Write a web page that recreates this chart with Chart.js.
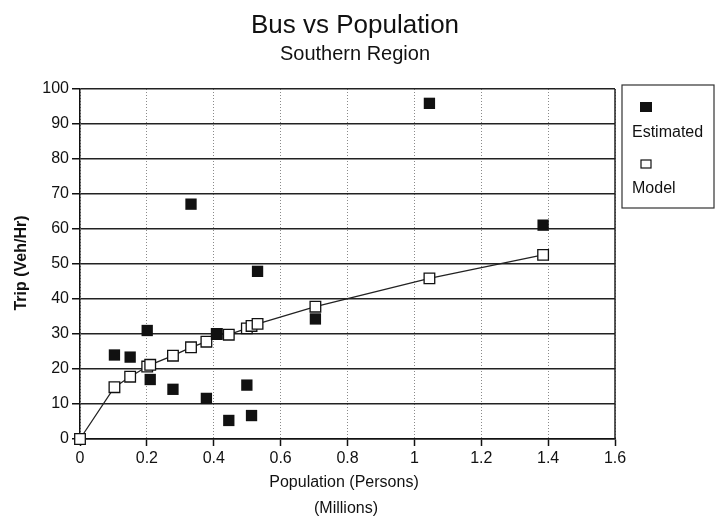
<!DOCTYPE html>
<html>
<head>
<meta charset="utf-8">
<script src="https://cdn.jsdelivr.net/npm/chart.js@4/dist/chart.umd.min.js"></script>
<style>
  html, body { margin: 0; padding: 0; background: #fff; }
  #c { display: block; }
</style>
</head>
<body>
<canvas id="c" width="715" height="524"></canvas>
<script>
// ---- data ----
const titleText = 'Bus vs Population';
const subtitleText = 'Southern Region';
const xTitleLines = ['Population (Persons)', '(Millions)'];
const yTitleText = 'Trip (Veh/Hr)';
const seriesNames = ['Estimated', 'Model'];

const population = [0.103, 0.150, 0.201, 0.210, 0.278, 0.332, 0.378, 0.409, 0.445, 0.499, 0.513, 0.531, 0.704, 1.045, 1.385];
const estimated  = [24.0, 23.4, 31.0, 17.0, 14.2, 67.1, 11.6, 30.1, 5.3, 15.4, 6.7, 47.9, 34.3, 95.9, 61.1];
const modelPopulation = [0, 0.103, 0.150, 0.201, 0.210, 0.278, 0.332, 0.378, 0.409, 0.445, 0.499, 0.513, 0.531, 0.704, 1.045, 1.385];
const model           = [0, 14.8, 17.8, 20.7, 21.2, 23.8, 26.2, 27.8, 30.0, 29.8, 31.6, 32.3, 32.9, 37.8, 45.9, 52.6];

const xTicks = [0, 0.2, 0.4, 0.6, 0.8, 1, 1.2, 1.4, 1.6];
const yTicks = [0, 10, 20, 30, 40, 50, 60, 70, 80, 90, 100];

// ---- chart ----
const FONT = '"Liberation Sans", Arial, Helvetica, sans-serif';
const INK = '#111';

const decorPlugin = {
  id: 'decor',
  afterDraw(chart) {
    const ctx = chart.ctx;
    const a = chart.chartArea;
    ctx.save();
    // right frame line
    ctx.strokeStyle = '#222';
    ctx.lineWidth = 1.5;
    ctx.beginPath();
    ctx.moveTo(a.right, a.top);
    ctx.lineTo(a.right, a.bottom);
    ctx.stroke();

    ctx.fillStyle = INK;
    ctx.textAlign = 'center';
    ctx.textBaseline = 'alphabetic';
    ctx.font = '26px ' + FONT;
    ctx.fillText(titleText, 355, 33);
    ctx.font = '20px ' + FONT;
    ctx.fillText(subtitleText, 355, 60);

    // x title
    ctx.textBaseline = 'middle';
    ctx.font = '16px ' + FONT;
    ctx.fillText(xTitleLines[0], 344, 483);
    ctx.fillText(xTitleLines[1], 346, 509);

    // y title
    ctx.save();
    ctx.translate(22, 263);
    ctx.rotate(-Math.PI / 2);
    ctx.font = 'bold 16px ' + FONT;
    ctx.fillText(yTitleText, 0, 0);
    ctx.restore();

    // legend box
    ctx.strokeStyle = '#333';
    ctx.lineWidth = 1.2;
    ctx.strokeRect(622, 85, 92, 123);
    const ds = chart.data.datasets;
    // filled marker
    ctx.fillStyle = INK;
    ctx.fillRect(640, 102, 12, 10);
    // open marker
    ctx.fillStyle = '#fff';
    ctx.strokeStyle = INK;
    ctx.lineWidth = 1.2;
    ctx.fillRect(641, 160, 10, 8);
    ctx.strokeRect(641, 160, 10, 8);
    ctx.fillStyle = INK;
    ctx.textAlign = 'left';
    ctx.font = '16px ' + FONT;
    ctx.fillText(ds[0].label, 632, 133);
    ctx.fillText(ds[1].label, 632, 189);
    ctx.restore();
  }
};

new Chart(document.getElementById('c'), {
  type: 'scatter',
  data: {
    datasets: [
      {
        label: seriesNames[0],
        data: population.map((x, i) => ({ x: x, y: estimated[i] })),
        showLine: false,
        clip: false,
        pointStyle: 'rect',
        pointRadius: 8,
        pointBackgroundColor: INK,
        pointBorderColor: INK,
        pointBorderWidth: 0
      },
      {
        label: seriesNames[1],
        data: modelPopulation.map((x, i) => ({ x: x, y: model[i] })),
        showLine: true,
        clip: false,
        borderColor: '#222',
        borderWidth: 1.3,
        tension: 0,
        pointStyle: 'rect',
        pointRadius: 7.5,
        pointBackgroundColor: '#fff',
        pointBorderColor: INK,
        pointBorderWidth: 1.3
      }
    ]
  },
  options: {
    responsive: false,
    animation: false,
    devicePixelRatio: 1,
    layout: { padding: { top: 89, right: 100, left: 0, bottom: 0 } },
    plugins: {
      legend: { display: false },
      title: { display: false },
      tooltip: { enabled: false }
    },
    scales: {
      x: {
        type: 'linear',
        min: xTicks[0],
        max: xTicks[xTicks.length - 1],
        afterBuildTicks: (s) => { s.ticks = xTicks.map(v => ({ value: v })); },
        afterFit: (s) => { s.height = 85; },
        ticks: {
          color: INK,
          font: { family: FONT, size: 16 },
          padding: 3,
          maxRotation: 0,
          callback: (v) => String(Math.round(v * 10) / 10)
        },
        grid: {
          color: '#8a8a8a',
          lineWidth: 1,
          drawTicks: true,
          tickLength: 7,
          tickColor: INK,
          tickWidth: 1.5,
          tickBorderDash: []
        },
        border: { display: true, color: INK, width: 1.5, dash: [1, 2] }
      },
      y: {
        type: 'linear',
        min: yTicks[0],
        max: yTicks[yTicks.length - 1],
        afterBuildTicks: (s) => { s.ticks = yTicks.map(v => ({ value: v })); },
        afterFit: (s) => { s.width = 80; },
        ticks: {
          color: INK,
          font: { family: FONT, size: 16 },
          padding: 3
        },
        grid: {
          color: '#222',
          lineWidth: 1.5,
          drawTicks: true,
          tickLength: 8,
          tickColor: INK,
          tickWidth: 1.5
        },
        border: { display: true, color: INK, width: 1.5 }
      }
    }
  },
  plugins: [decorPlugin]
});
</script>
</body>
</html>
